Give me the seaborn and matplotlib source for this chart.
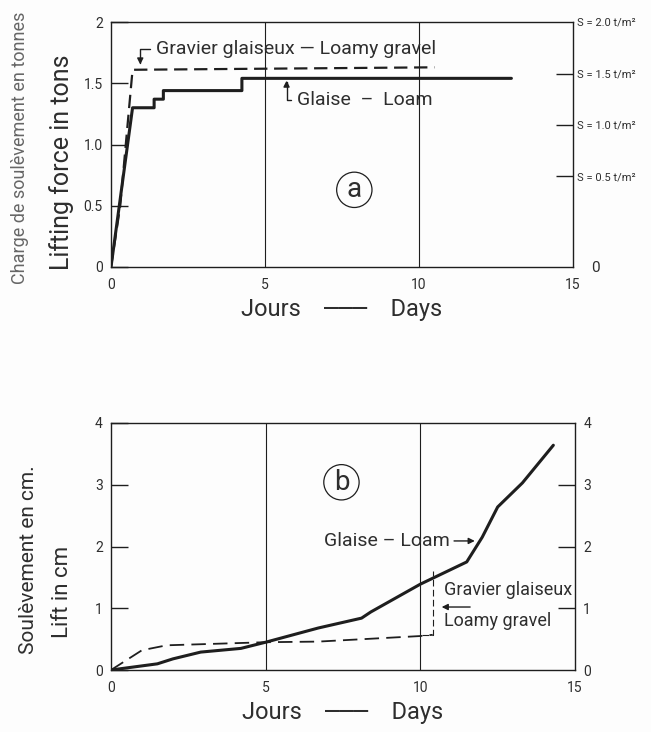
import matplotlib
matplotlib.use("Agg")
import matplotlib.pyplot as plt
import seaborn as sns
import pandas as pd
import numpy as np

# ---- data ----
# Panel a: lifting force (tons) vs days
a_loam_days = [0, 0.7, 1.4, 1.4, 1.7, 1.7, 4.25, 4.25, 13.0]
a_loam_force = [0, 1.30, 1.30, 1.37, 1.37, 1.44, 1.44, 1.54, 1.54]
a_gravel_days = [0, 0.3, 0.7, 10.5]
a_gravel_force = [0, 0.50, 1.61, 1.63]
a_right_ticks = [0.0, 0.75, 1.18, 1.60, 2.03]
a_right_labels = ["0", "S = 0.5 t/m²", "S = 1.0 t/m²", "S = 1.5 t/m²", "S = 2.0 t/m²"]
a_left_ticks = [0, 0.5, 1.0, 1.5, 2]
a_left_labels = ["0", "0.5", "1.0", "1.5", "2"]

# Panel b: lift (cm) vs days
b_loam_days = [0, 1.5, 2.0, 2.9, 4.2, 5.0, 6.7, 8.1, 8.4, 10.0, 11.5, 12.0, 12.5, 13.3, 14.3]
b_loam_lift = [0, 0.10, 0.18, 0.29, 0.35, 0.45, 0.68, 0.84, 0.94, 1.39, 1.75, 2.15, 2.64, 3.03, 3.64]
b_gravel_days = [0, 1.0, 1.8, 5.0, 6.7, 10.0, 10.4]
b_gravel_lift = [0, 0.32, 0.40, 0.45, 0.46, 0.55, 0.57]
b_ticks = [0, 1, 2, 3, 4]

x_major = [0, 5, 10, 15]
x_minor = list(range(0, 16))

sns.set_style("white")
FONT = ["Roboto", "DejaVu Sans"]
plt.rcParams["font.family"] = FONT
INK = "#1e1e1e"
TXT = "#2e2e2e"

fig = plt.figure(figsize=(6.51, 7.32), dpi=100, facecolor="#fdfdfd")
W, H = 651, 732


def make_ax(l, r, t, b):
    return fig.add_axes([l / W, 1 - b / H, (r - l) / W, (b - t) / H])


def style_ax(ax):
    ax.set_facecolor("#fdfdfd")
    for s in ax.spines.values():
        s.set_color(INK)
        s.set_linewidth(1.0)
    ax.set_xlim(0, 15)
    ax.set_xticks(x_major)
    ax.set_xticks(x_minor, minor=True)
    ax.tick_params(axis="x", which="minor", direction="in", length=5, width=0.8, color=INK)
    ax.tick_params(axis="x", which="major", direction="in", length=0, pad=8, labelsize=10, labelcolor=TXT)
    ax.tick_params(axis="y", which="major", direction="in", length=12, width=1.0, color=INK,
                   labelsize=10, labelcolor=TXT, pad=6)
    for xv in (5, 10):
        ax.axvline(xv, color=INK, lw=0.8, zorder=1)


XLAB = "Jours    ───    Days"

# ---------------- Panel a ----------------
axa = make_ax(111, 573, 22, 267)
style_ax(axa)
da1 = pd.DataFrame({"days": a_loam_days, "force": a_loam_force})
da2 = pd.DataFrame({"days": a_gravel_days, "force": a_gravel_force})
sns.lineplot(data=da1, x="days", y="force", ax=axa, color=INK, lw=2.2, sort=False, estimator=None)
sns.lineplot(data=da2, x="days", y="force", ax=axa, color=INK, lw=1.6, sort=False, estimator=None,
             linestyle=(0, (6, 3)))
axa.set_ylim(0, 2)
axa.set_yticks(a_left_ticks)
axa.set_yticklabels(a_left_labels)
axa.set_xlabel(XLAB, fontsize=17, color=TXT, labelpad=4)
axa.set_ylabel("")

axa2 = axa.twinx()
axa2.set_ylim(0, 2)
axa2.set_yticks(a_right_ticks)
axa2.set_yticklabels(a_right_labels)
axa2.tick_params(axis="y", direction="in", length=12, width=1.0, color=INK, labelsize=8,
                 labelcolor=TXT, pad=3)
for t, v in zip(axa2.yaxis.get_major_ticks(), a_right_ticks):
    if v in (0.0, 2.03):
        t.tick2line.set_visible(False)
for lab, v in zip(axa2.get_yticklabels(), a_right_ticks):
    if v == 0.0:
        lab.set_fontsize(11)
        lab.set_x(1.03)
for s in axa2.spines.values():
    s.set_visible(False)

axa.annotate("", xy=(0.95, 1.63), xytext=(1.35, 1.78),
             arrowprops=dict(arrowstyle="-|>", color=INK, lw=1.0, mutation_scale=9,
                             connectionstyle="angle,angleA=0,angleB=90,rad=0"))
axa.text(1.45, 1.78, "Gravier glaiseux — Loamy gravel", fontsize=14, color=TXT, va="center")
axa.annotate("", xy=(5.7, 1.545), xytext=(5.95, 1.36),
             arrowprops=dict(arrowstyle="-|>", color=INK, lw=1.0, mutation_scale=9,
                             connectionstyle="angle,angleA=0,angleB=90,rad=0"))
axa.text(6.05, 1.36, "Glaise  –  Loam", fontsize=14, color=TXT, va="center")
axa.text(7.9, 0.63, "a", fontsize=20, color=TXT, ha="center", va="center",
         bbox=dict(boxstyle="circle,pad=0.15", fc="none", ec=INK, lw=0.9))

fig.text(20 / W, 1 - 148 / H, "Charge de soulèvement en tonnes", rotation=90, fontsize=13,
         color="#666666", ha="center", va="center")
fig.text(62 / W, 1 - 162 / H, "Lifting force in tons", rotation=90, fontsize=18,
         color=TXT, ha="center", va="center")

# ---------------- Panel b ----------------
axb = make_ax(111, 575, 423, 670)
style_ax(axb)
db1 = pd.DataFrame({"days": b_loam_days, "lift": b_loam_lift})
db2 = pd.DataFrame({"days": b_gravel_days, "lift": b_gravel_lift})
sns.lineplot(data=db1, x="days", y="lift", ax=axb, color=INK, lw=2.2, sort=False, estimator=None)
sns.lineplot(data=db2, x="days", y="lift", ax=axb, color=INK, lw=1.3, sort=False, estimator=None,
             linestyle=(0, (8, 4)))
axb.set_ylim(0, 4)
axb.set_yticks(b_ticks)
axb.set_xlabel(XLAB, fontsize=17, color=TXT, labelpad=4)
axb.set_ylabel("")
for t, v in zip(axb.yaxis.get_major_ticks(), b_ticks):
    if v in (0, 4):
        t.tick1line.set_visible(False)

axb2 = axb.twinx()
axb2.set_ylim(0, 4)
axb2.set_yticks(b_ticks)
axb2.tick_params(axis="y", direction="in", length=12, width=1.0, color=INK, labelsize=10,
                 labelcolor=TXT, pad=6)
for t, v in zip(axb2.yaxis.get_major_ticks(), b_ticks):
    if v in (0, 4):
        t.tick2line.set_visible(False)
for s in axb2.spines.values():
    s.set_visible(False)

# bracket for gravel annotation
axb.plot([10.05, 10.4, 10.4], [0.57, 0.57, 1.6], color=INK, lw=0.8, linestyle=(0, (6, 3)))
axb.annotate("", xy=(10.6, 1.02), xytext=(11.7, 1.02),
             arrowprops=dict(arrowstyle="-|>", color=INK, lw=1.0, mutation_scale=9))
axb.text(10.75, 1.3, "Gravier glaiseux", fontsize=13, color=TXT, va="center")
axb.text(10.75, 0.8, "Loamy gravel", fontsize=13, color=TXT, va="center")
axb.annotate("", xy=(11.85, 2.09), xytext=(11.0, 2.09),
             arrowprops=dict(arrowstyle="-|>", color=INK, lw=1.0, mutation_scale=9))
axb.text(10.95, 2.09, "Glaise – Loam", fontsize=14, color=TXT, va="center", ha="right")
axb.text(7.45, 3.04, "b", fontsize=20, color=TXT, ha="center", va="center",
         bbox=dict(boxstyle="circle,pad=0.15", fc="none", ec=INK, lw=0.9))

fig.text(28 / W, 1 - 560 / H, "Soulèvement en cm.", rotation=90, fontsize=15,
         color=TXT, ha="center", va="center")
fig.text(62 / W, 1 - 592 / H, "Lift in cm", rotation=90, fontsize=16,
         color=TXT, ha="center", va="center")

fig.savefig("out.png", dpi=100, facecolor=fig.get_facecolor())
